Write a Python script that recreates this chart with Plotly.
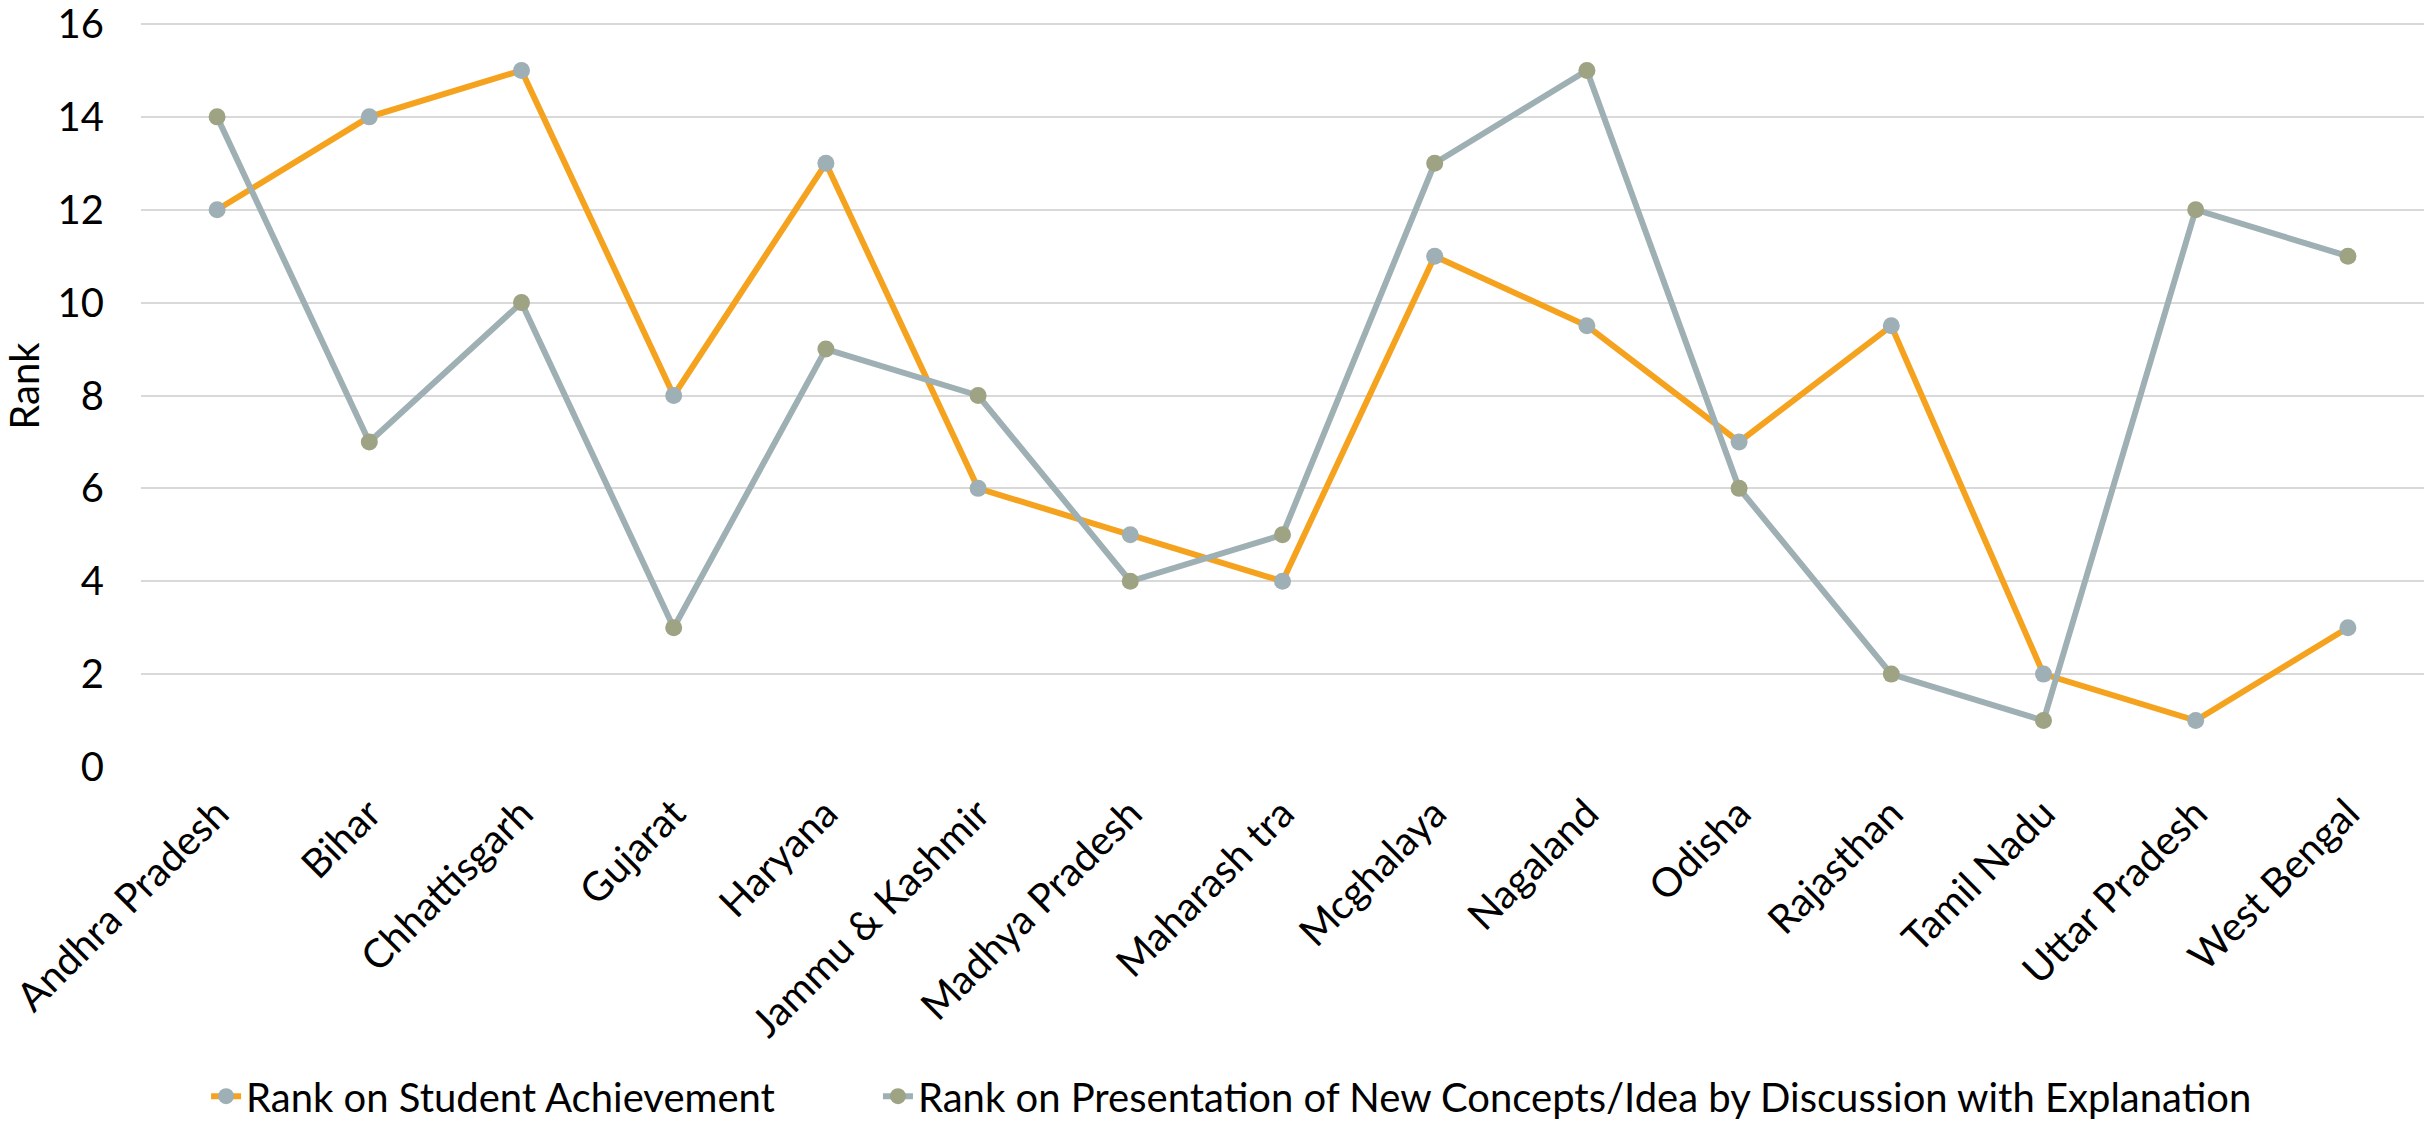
import plotly.graph_objects as go

states = ["Andhra Pradesh", "Bihar", "Chhattisgarh", "Gujarat", "Haryana",
          "Jammu & Kashmir", "Madhya Pradesh", "Maharash tra", "Mcghalaya",
          "Nagaland", "Odisha", "Rajasthan", "Tamil Nadu", "Uttar Pradesh",
          "West Bengal"]
rank_student = [12, 14, 15, 8, 13, 6, 5, 4, 11, 9.5, 7, 9.5, 2, 1, 3]
rank_presentation = [14, 7, 10, 3, 9, 8, 4, 5, 13, 15, 6, 2, 1, 12, 11]
y_ticks = [0, 2, 4, 6, 8, 10, 12, 14, 16]

FONT = "Lato"

fig = go.Figure()
fig.add_trace(go.Scatter(
    x=states, y=rank_student, mode="lines+markers",
    name="Rank on Student Achievement",
    line=dict(color="#F5A31F", width=6),
    marker=dict(color="#9EAFB5", size=17),
    legend="legend",
))
fig.add_trace(go.Scatter(
    x=states, y=rank_presentation, mode="lines+markers",
    name="Rank on Presentation of New Concepts/Idea by Discussion with Explanation",
    line=dict(color="#9FB0B5", width=6),
    marker=dict(color="#9EA383", size=17),
    legend="legend2",
))

leg_common = dict(orientation="h", xanchor="left", yanchor="middle",
                  y=-0.432, font=dict(size=40, family=FONT),
                  bgcolor="rgba(0,0,0,0)")

fig.update_layout(
    width=2432, height=1123,
    margin=dict(l=141, r=8, t=5, b=356, autoexpand=False),
    paper_bgcolor="white", plot_bgcolor="white",
    font=dict(family=FONT, size=40, color="#000000"),
    showlegend=True,
    legend=dict(x=0.0285, **leg_common),
    legend2=dict(x=0.3228, **leg_common),
    xaxis=dict(type="category", range=[-0.5, 14.5], tickangle=-45,
               showgrid=False, showline=False, ticks="", automargin=False,
               ticklabelstandoff=14,
               tickfont=dict(size=40, family=FONT)),
    yaxis=dict(range=[0, 16.409], tickmode="array", tickvals=y_ticks,
               showgrid=True, ticklabeloverflow="allow",
               gridcolor="#D9D9D9", gridwidth=2, zeroline=False,
               showline=False, ticks="", automargin=False,
               ticklabelstandoff=36,
               tickfont=dict(size=40, family=FONT),
               title=dict(text="Rank", font=dict(size=40, family=FONT), standoff=30)),
)

fig.write_html("out.html")
